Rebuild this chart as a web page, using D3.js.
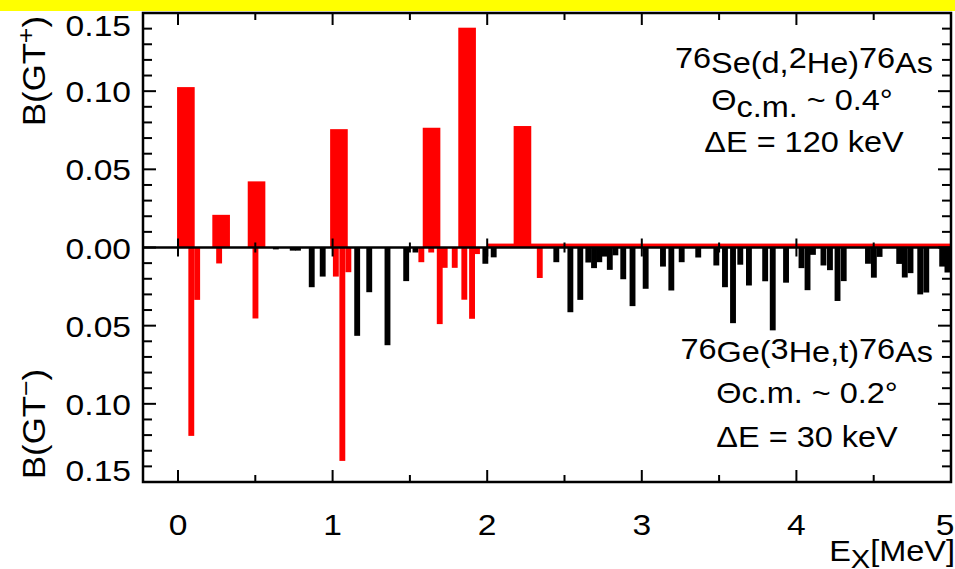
<!DOCTYPE html>
<html>
<head>
<meta charset="utf-8">
<script src="https://cdn.jsdelivr.net/npm/d3@7"></script>
<style>
  body { margin: 0; background: #fff; }
  svg { display: block; font-family: "Liberation Sans", Arial, sans-serif; }
  .lbl { font-size: 29px; fill: #000; }
</style>
</head>
<body>
<div id="chart"></div>
<script>
// upper panel: 76Se(d,2He)76As, B(GT+)
const upperE = [0.051, 0.279, 0.508, 1.041, 1.640, 1.870, 2.228];
const upperB = [0.1026, 0.0209, 0.0423, 0.0757, 0.0766, 0.1406, 0.0777];
const contE = [2.0, 5.0];
const contB = 0.0025;

// lower panel: 76Ge(3He,t)76As, B(GT-)
const redE = [0.086, 0.124, 0.266, 0.501, 1.021, 1.063, 1.102, 1.574, 1.638, 1.693, 1.725, 1.790, 1.852, 1.902, 1.934, 2.340];
const redB = [0.1205, 0.0335, 0.0102, 0.0454, 0.0186, 0.1365, 0.0158, 0.0094, 0.0032, 0.049, 0.013, 0.013, 0.0334, 0.0456, 0.0042, 0.0195];
const blackE = [0.633, 0.742, 0.776, 0.865, 0.936, 1.159, 1.237, 1.355, 1.476, 1.536, 1.988, 2.042,
  2.447, 2.538, 2.602, 2.654, 2.691, 2.725, 2.757, 2.793, 2.829, 2.880, 2.940, 3.025, 3.137, 3.191,
  3.258, 3.365, 3.482, 3.538, 3.590, 3.637, 3.693, 3.798, 3.847, 3.933, 4.033, 4.072, 4.107, 4.175,
  4.217, 4.266, 4.306, 4.463, 4.501, 4.538, 4.665, 4.701, 4.738, 4.801, 4.840, 4.943, 4.977];
const blackB = [0.0012, 0.002, 0.002, 0.0254, 0.0186, 0.0565, 0.0286, 0.0625, 0.0215, 0.0032, 0.0104, 0.0063,
  0.0094, 0.0414, 0.0335, 0.0096, 0.0132, 0.0094, 0.0058, 0.0143, 0.005, 0.0203, 0.0375, 0.0264, 0.0122, 0.0275,
  0.0094, 0.0064, 0.0115, 0.0254, 0.0484, 0.011, 0.0243, 0.0216, 0.053, 0.0225, 0.0132, 0.0273, 0.0047, 0.0115,
  0.0145, 0.0342, 0.0215, 0.0104, 0.0193, 0.006, 0.0105, 0.0192, 0.0164, 0.03, 0.0288, 0.0122, 0.016];

const xTicks = [0, 1, 2, 3, 4, 5];
const yTicks = [-0.15, -0.10, -0.05, 0, 0.05, 0.10, 0.15];

const width = 955, height = 569;
const frame = {left: 143, right: 951, top: 13, bottom: 482};
const wideBar = 0.114, thinBar = 0.038;
const stretch = 1.12;

const svg = d3.select("#chart").append("svg")
    .attr("width", width)
    .attr("height", height);

svg.append("rect").attr("x", 0).attr("y", 0).attr("width", width).attr("height", 11).attr("fill", "#ffff00");

const xScale = d3.scaleLinear().domain([0, 5]).range([178, 951]);
const yScale = d3.scaleLinear().domain([-0.15, 0.15]).range([frame.bottom, frame.top]);
const dx = w => xScale(w) - xScale(0);

// text is a bit wider than the plain font, so stretch it sideways
function label(x, y, anchor, size) {
    return svg.append("text").attr("class", "lbl")
        .attr("transform", `translate(${x},${y}) scale(${stretch},1)`)
        .attr("text-anchor", anchor)
        .style("font-size", (size || 29) + "px");
}

// upper bars
svg.append("rect")
    .attr("x", xScale(contE[0]))
    .attr("y", yScale(contB))
    .attr("width", xScale(contE[1]) - xScale(contE[0]))
    .attr("height", yScale(0) - yScale(contB))
    .attr("fill", "#ff0000");

svg.selectAll(".up").data(upperE).enter().append("rect")
    .attr("class", "up")
    .attr("x", d => xScale(d - wideBar / 2))
    .attr("y", (d, i) => yScale(upperB[i]))
    .attr("width", dx(wideBar))
    .attr("height", (d, i) => yScale(0) - yScale(upperB[i]))
    .attr("fill", "#ff0000");

// lower bars
const lower = blackE.map((e, i) => ({e: e, b: blackB[i], c: "#000"}))
    .concat(redE.map((e, i) => ({e: e, b: redB[i], c: "#ff0000"})));
svg.selectAll(".low").data(lower).enter().append("rect")
    .attr("class", "low")
    .attr("x", d => xScale(d.e - thinBar / 2))
    .attr("y", yScale(0))
    .attr("width", dx(thinBar))
    .attr("height", d => yScale(-d.b) - yScale(0))
    .attr("fill", d => d.c);

// zero line with crossing ticks
svg.append("line")
    .attr("x1", frame.left).attr("x2", frame.right)
    .attr("y1", yScale(0)).attr("y2", yScale(0))
    .attr("stroke", "#000").attr("stroke-width", 2.5);
const halfTicks = d3.range(0, 5.01, 0.5);
svg.selectAll(".zt").data(halfTicks).enter().append("line")
    .attr("x1", d => xScale(d)).attr("x2", d => xScale(d))
    .attr("y1", d => yScale(0) - (d % 1 === 0 ? 9 : 5))
    .attr("y2", d => yScale(0) + (d % 1 === 0 ? 9 : 5))
    .attr("stroke", "#000").attr("stroke-width", 2);

// frame
svg.append("rect")
    .attr("x", frame.left).attr("y", frame.top)
    .attr("width", frame.right - frame.left).attr("height", frame.bottom - frame.top)
    .attr("fill", "none").attr("stroke", "#000").attr("stroke-width", 2.5);

// x ticks top & bottom (inside)
svg.selectAll(".xt").data(halfTicks).enter().append("line")
    .attr("x1", d => xScale(d)).attr("x2", d => xScale(d))
    .attr("y1", frame.top).attr("y2", d => frame.top + (d % 1 === 0 ? 12 : 7))
    .attr("stroke", "#000").attr("stroke-width", 2);
svg.selectAll(".xb").data(halfTicks).enter().append("line")
    .attr("x1", d => xScale(d)).attr("x2", d => xScale(d))
    .attr("y1", frame.bottom).attr("y2", d => frame.bottom - (d % 1 === 0 ? 12 : 7))
    .attr("stroke", "#000").attr("stroke-width", 2);

// y ticks left & right (inside)
const yMinor = d3.range(-15, 16).map(k => k / 100);
svg.selectAll(".yl").data(yMinor).enter().append("line")
    .attr("x1", frame.left).attr("x2", (d, i) => frame.left + (i % 5 === 0 ? 13 : 9))
    .attr("y1", d => yScale(d)).attr("y2", d => yScale(d))
    .attr("stroke", "#000").attr("stroke-width", 2);
svg.selectAll(".yr").data(yMinor).enter().append("line")
    .attr("x1", frame.right).attr("x2", (d, i) => frame.right - (i % 5 === 0 ? 13 : 9))
    .attr("y1", d => yScale(d)).attr("y2", d => yScale(d))
    .attr("stroke", "#000").attr("stroke-width", 2);

// tick labels (end labels kept inside the frame height)
yTicks.forEach(d => {
    const cy = Math.min(Math.max(yScale(d), 25), 470);
    label(131, cy + 11, "end", 30).text(Math.abs(d).toFixed(2));
});
xTicks.forEach(d => {
    const cx = Math.min(xScale(d), 945);
    label(cx, 535, "middle", 30).text(d);
});

// axis titles
const xt = label(955, 561, "end");
xt.append("tspan").text("E");
xt.append("tspan").attr("dy", 7).style("font-size", "26px").text("X");
xt.append("tspan").attr("dy", -7).text("[MeV]");

function yTitle(cy, sign) {
    const t = svg.append("text").attr("class", "lbl")
        .attr("transform", `translate(45,${cy}) rotate(-90) scale(${stretch},1)`)
        .attr("text-anchor", "middle")
        .style("font-size", "31px");
    t.append("tspan").text("B(GT");
    t.append("tspan").attr("dy", -11).style("font-size", "24px").text(sign);
    t.append("tspan").attr("dy", 11).text(")");
}
yTitle(71, "+");
yTitle(424, "\u2212");

// annotations
function reaction(y, parts) {
    const t = label(933, y, "end");
    parts.forEach(p => t.append("tspan").attr("dy", p[1]).text(p[0]));
}
reaction(73, [["76", -5], ["Se(d,", 5], ["2", -5], ["He)", 5], ["76", -5], ["As", 5]]);
reaction(362, [["76", -3], ["Ge(", 3], ["3", -3], ["He,t)", 3], ["76", -3], ["As", 3]]);

function theta(x, y, sub, rest) {
    const t = label(x, y, "middle");
    t.append("tspan").text("\u0398");
    t.append("tspan").attr("dy", sub).text("c.m.");
    t.append("tspan").attr("dy", -sub).text(rest);
}
theta(802, 110, 7, " ~ 0.4\u00b0");
theta(807, 403, 0, " ~ 0.2\u00b0");

label(804, 152, "middle").text("\u0394E = 120 keV");
label(807, 447, "middle").text("\u0394E = 30 keV");
</script>
</body>
</html>
